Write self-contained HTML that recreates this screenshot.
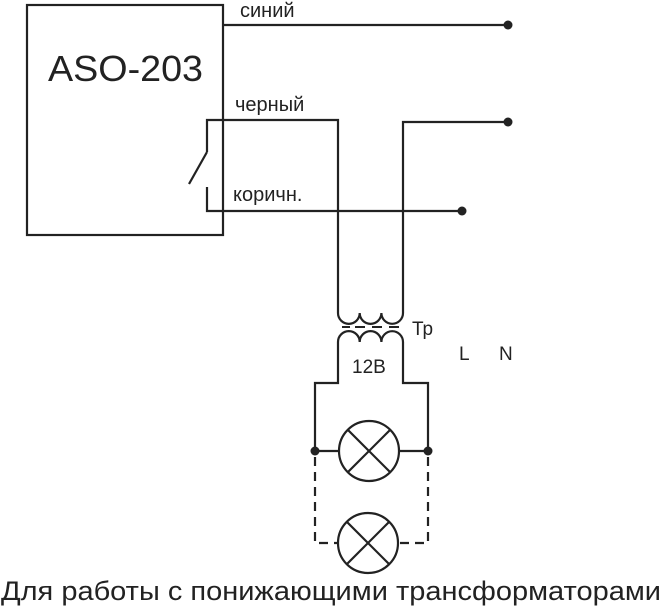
<!DOCTYPE html>
<html><head><meta charset="utf-8"><style>html,body{margin:0;padding:0;background:#fff}svg{display:block}</style></head>
<body>
<svg width="663" height="611" viewBox="0 0 663 611" xmlns="http://www.w3.org/2000/svg">
<g fill="none" stroke="#222" stroke-width="2.2">
<rect x="27" y="5" width="196" height="230"/>
<line x1="223" y1="25" x2="508" y2="25"/>
<polyline points="207,152 207,120 338,120 338,313"/>
<line x1="207" y1="152" x2="189" y2="184"/>
<polyline points="207,187 207,211 462,211"/>
<polyline points="508,122 403,122 403,313"/>
<path d="M338,313 a10.8,10.8 0 0 0 21.7,0 a10.8,10.8 0 0 0 21.7,0 a10.8,10.8 0 0 0 21.6,0"/>
<path d="M338,342 a10.8,10.8 0 0 1 21.7,0 a10.8,10.8 0 0 1 21.7,0 a10.8,10.8 0 0 1 21.6,0"/>
<polyline points="338,342 338,383 315,383 315,451 339,451"/>
<polyline points="403,342 403,383 428,383 428,451 399,451"/>
<circle cx="369" cy="451" r="30"/>
<line x1="348" y1="430" x2="390" y2="472"/>
<line x1="390" y1="430" x2="348" y2="472"/>
<circle cx="368" cy="543" r="30"/>
<line x1="347" y1="522" x2="389" y2="564"/>
<line x1="389" y1="522" x2="347" y2="564"/>
<polyline stroke-dasharray="9,6" points="315,457 315,543 338,543"/>
<polyline stroke-dasharray="9,6" points="428,457 428,543 398,543"/>
</g>
<g stroke="#222" stroke-width="2">
<line x1="342" y1="327" x2="350" y2="327"/><line x1="355" y1="327" x2="365" y2="327"/><line x1="372" y1="327" x2="382" y2="327"/><line x1="389" y1="327" x2="399" y2="327"/>
</g>
<g fill="#222">
<circle cx="508" cy="25" r="4.5"/><circle cx="508" cy="122" r="4.5"/><circle cx="462" cy="211" r="4.5"/>
<circle cx="315" cy="451" r="4.5"/><circle cx="428" cy="451" r="4.5"/>
</g>
<g font-family="Liberation Sans, sans-serif" fill="#222">
<text x="48" y="81" font-size="36" textLength="155" lengthAdjust="spacingAndGlyphs">ASO-203</text>
<text x="240" y="17" font-size="20">синий</text>
<text x="235" y="111" font-size="20">черный</text>
<text x="233" y="201" font-size="20">коричн.</text>
<text x="412" y="335" font-size="19">Тр</text>
<text x="352" y="373" font-size="19">12В</text>
<text x="459" y="360" font-size="19">L</text>
<text x="499" y="360" font-size="19">N</text>
<text x="1" y="600" font-size="27" textLength="660" lengthAdjust="spacingAndGlyphs">Для работы с понижающими трансформаторами</text>
</g>
</svg>
</body></html>
